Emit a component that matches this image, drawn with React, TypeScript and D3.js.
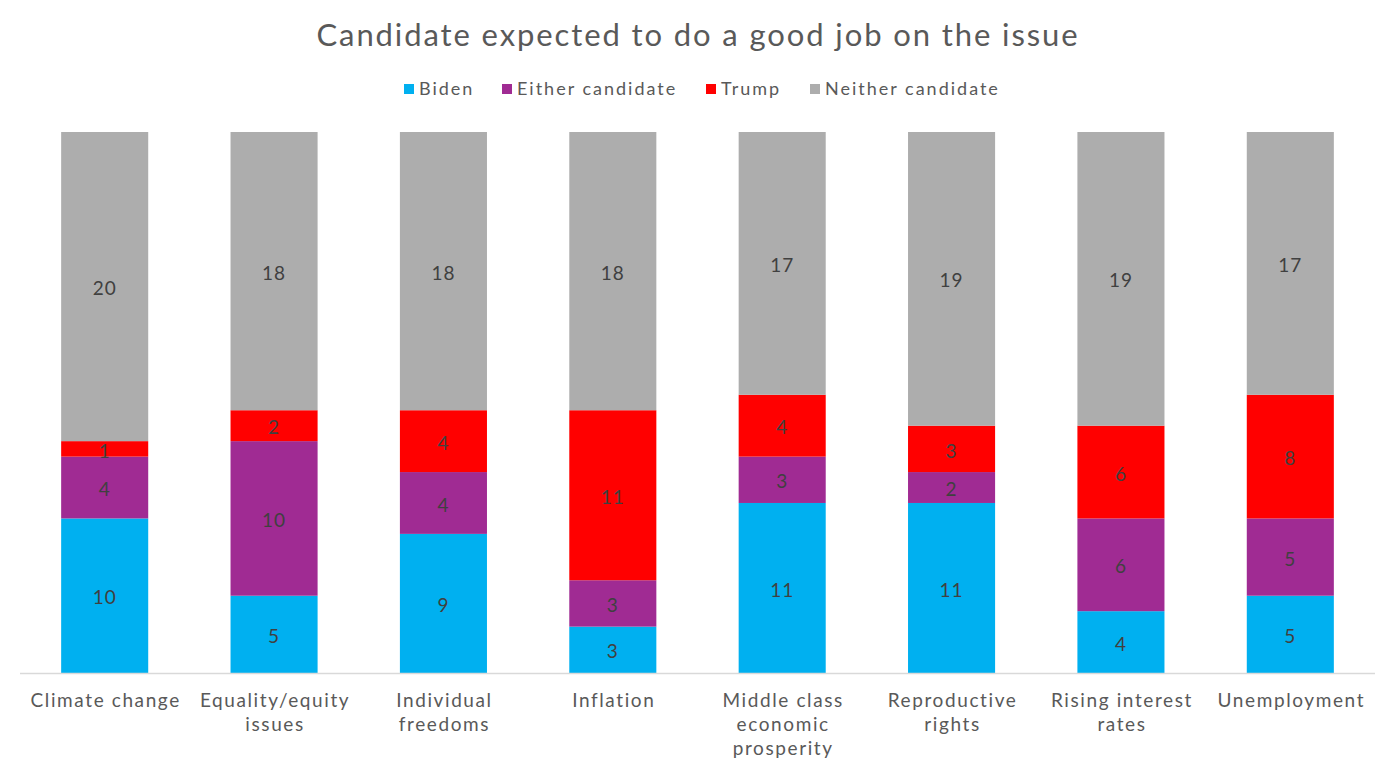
import React, { useEffect, useRef } from "react";
import * as d3 from "d3";

const categories = [
  "Climate change",
  "Equality/equity issues",
  "Individual freedoms",
  "Inflation",
  "Middle class economic prosperity",
  "Reproductive rights",
  "Rising interest rates",
  "Unemployment",
];
// wrapped axis labels
const categoryLines = [
  ["Climate change"],
  ["Equality/equity", "issues"],
  ["Individual", "freedoms"],
  ["Inflation"],
  ["Middle class", "economic", "prosperity"],
  ["Reproductive", "rights"],
  ["Rising interest", "rates"],
  ["Unemployment"],
];

const seriesNames = ["Biden", "Either candidate", "Trump", "Neither candidate"];
const biden = [10, 5, 9, 3, 11, 11, 4, 5];
const either = [4, 10, 4, 3, 3, 2, 6, 5];
const trump = [1, 2, 4, 11, 4, 3, 6, 8];
const neither = [20, 18, 18, 18, 17, 19, 19, 17];
const colors = ["#00B0F0", "#A02B93", "#FF0000", "#ADADAD"];

const FONT = "Lato, 'Open Sans', sans-serif";

const App = () => {
  const ref = useRef<SVGSVGElement>(null);

  useEffect(() => {
    const width = 1394;
    const svg = d3.select(ref.current);
    svg.selectAll("*").remove();

    const rows = categories.map((c, i) => ({
      category: c,
      Biden: biden[i],
      "Either candidate": either[i],
      Trump: trump[i],
      "Neither candidate": neither[i],
    }));

    const stack = d3.stack<any>().keys(seriesNames);
    const layers = stack(rows);

    const x = d3
      .scaleBand()
      .domain(categories)
      .range([20, 1375])
      .paddingInner(0.486)
      .paddingOuter(0.243);

    const y = d3.scaleLinear().domain([0, 35]).range([673, 132]);

    // title
    svg
      .append("text")
      .attr("x", width / 2 + 1)
      .attr("y", 46)
      .attr("text-anchor", "middle")
      .attr("font-family", FONT)
      .attr("font-size", 31)
      .attr("letter-spacing", 1.9)
      .attr("fill", "#595959")
      .text("Candidate expected to do a good job on the issue");

    // legend
    const legendX = [404, 502, 706, 810];
    const legend = svg
      .append("g")
      .selectAll("g")
      .data(seriesNames)
      .enter()
      .append("g")
      .attr("transform", (d, i) => `translate(${legendX[i]},89)`);
    legend
      .append("rect")
      .attr("x", 0)
      .attr("y", -5)
      .attr("width", 10)
      .attr("height", 10)
      .attr("fill", (d, i) => colors[i]);
    legend
      .append("text")
      .attr("x", 15)
      .attr("dy", "0.35em")
      .attr("font-family", FONT)
      .attr("font-size", 18)
      .attr("letter-spacing", 2)
      .attr("fill", "#595959")
      .text((d) => d);

    // bars
    const g = svg.append("g");
    layers.forEach((layer, li) => {
      g.append("g")
        .attr("fill", colors[li])
        .selectAll("rect")
        .data(layer)
        .enter()
        .append("rect")
        .attr("x", (d: any) => x(d.data.category)!)
        .attr("y", (d) => y(d[1]))
        .attr("width", x.bandwidth())
        .attr("height", (d) => y(d[0]) - y(d[1]));

      g.append("g")
        .selectAll("text")
        .data(layer)
        .enter()
        .append("text")
        .attr("x", (d: any) => x(d.data.category)! + x.bandwidth() / 2)
        .attr("y", (d) => (y(d[0]) + y(d[1])) / 2 + 2)
        .attr("dy", "0.35em")
        .attr("text-anchor", "middle")
        .attr("font-family", FONT)
        .attr("font-size", 19)
        .attr("letter-spacing", 1)
        .attr("fill", "#404040")
        .text((d) => d[1] - d[0]);
    });

    // baseline
    svg
      .append("line")
      .attr("x1", 20)
      .attr("x2", 1375)
      .attr("y1", y(0) + 0.5)
      .attr("y2", y(0) + 0.5)
      .attr("stroke", "#D9D9D9")
      .attr("stroke-width", 1.5);

    // category labels
    const labels = svg
      .append("g")
      .selectAll("text")
      .data(categories)
      .enter()
      .append("text")
      .attr("text-anchor", "middle")
      .attr("font-family", FONT)
      .attr("font-size", 19)
      .attr("letter-spacing", 1.6)
      .attr("fill", "#595959")
      .attr("transform", (d) => `translate(${x(d)! + x.bandwidth() / 2 + 1},707)`);
    labels
      .selectAll("tspan")
      .data((d, i) => categoryLines[i])
      .enter()
      .append("tspan")
      .attr("x", 0)
      .attr("y", (d, i) => i * 24)
      .text((d) => d);
  }, []);

  return (
    <svg
      ref={ref}
      width={1394}
      height={772}
      style={{ position: "absolute", left: 0, top: 0 }}
    />
  );
};

export default App;
